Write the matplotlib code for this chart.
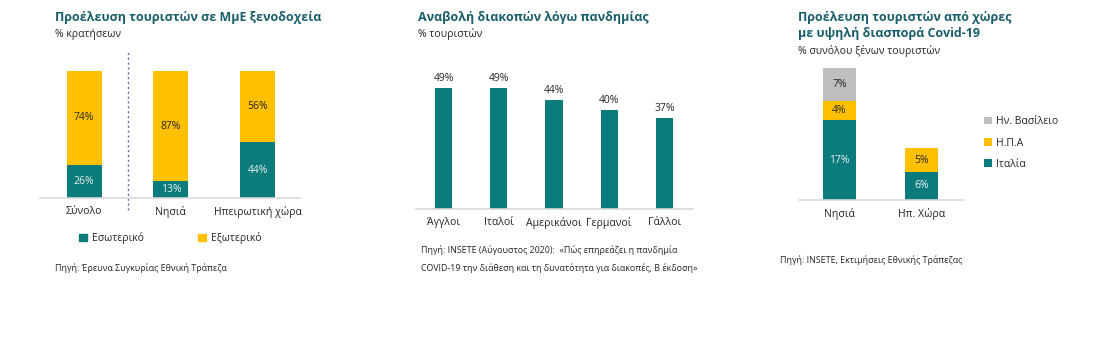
import numpy as np
import matplotlib.pyplot as plt
from matplotlib.patches import Patch

plt.rcParams['font.family'] = ['Open Sans', 'DejaVu Sans']

# Panel 1: origin of tourists in SME hotels
cat1 = ['Σύνολο', 'Νησιά', 'Ηπειρωτική χώρα']
domestic = [26, 13, 44]
foreign = [74, 87, 56]

# Panel 2: holidays postponed due to pandemic
cat2 = ['Άγγλοι', 'Ιταλοί', 'Αμερικάνοι', 'Γερμανοί', 'Γάλλοι']
postponed = [49, 49, 44, 40, 37]

# Panel 3: tourists from high Covid-19 countries
cat3 = ['Νησιά', 'Ηπ. Χώρα']
italy = [17, 6]
usa = [4, 5]
uk = [7, 0]

TEAL = '#0B7B7B'
YELLOW = '#FFC000'
GREY = '#BFBFBF'
TITLE = '#1B5E6B'
TXT = '#262626'
LINE = '#D9D9D9'

W, H = 1119, 342
fig = plt.figure(figsize=(W / 100, H / 100), dpi=100)


def px_axes(x0, x1, ytop, ybot):
    return fig.add_axes([x0 / W, 1 - ybot / H, (x1 - x0) / W, (ybot - ytop) / H])


def ftext(x, y, s, **kw):
    fig.text(x / W, 1 - y / H, s, **kw)


def style(ax):
    for s in ['top', 'left', 'right']:
        ax.spines[s].set_visible(False)
    ax.spines['bottom'].set_color(LINE)
    ax.spines['bottom'].set_linewidth(1.2)
    ax.set_yticks([])
    ax.tick_params(axis='x', length=0, pad=6, labelsize=7.6, labelcolor=TXT)


# ---- panel 1
ax1 = px_axes(40, 300, 50, 198)
x1 = np.arange(len(cat1))
ax1.bar(x1, domestic, width=0.405, color=TEAL)
ax1.bar(x1, foreign, width=0.405, bottom=domestic, color=YELLOW)
ax1.set_xlim(-0.51, 2.49)
ax1.set_ylim(0, 116.5)
style(ax1)
ax1.set_xticks(x1, cat1)
for i in range(len(cat1)):
    ax1.text(x1[i], domestic[i] / 2, f'{domestic[i]}%', ha='center', va='center',
             color='#E8F0F0', fontsize=7.5)
    ax1.text(x1[i], domestic[i] + foreign[i] / 2, f'{foreign[i]}%', ha='center',
             va='center', color=TXT, fontsize=7.5)
ax1.plot([0.5, 0.5], [-9.5, 116.5], ls=(0, (1.5, 2)), color='#7B5EA7', lw=1,
         clip_on=False)
ax1.legend(handles=[Patch(color=TEAL, label='Εσωτερικό'),
                    Patch(color=YELLOW, label='Εξωτερικό')],
           loc='center left', bbox_to_anchor=(74 / W, 1 - 238 / H),
           bbox_transform=fig.transFigure, ncol=2, frameon=False, fontsize=7.5,
           handlelength=0.75, handleheight=0.75, handletextpad=0.5,
           columnspacing=5.2, labelcolor=TXT, borderpad=0)
ftext(55, 18, 'Προέλευση τουριστών σε ΜμΕ ξενοδοχεία', fontsize=9,
      fontweight='bold', color=TITLE, va='center')
ftext(55, 34, '% κρατήσεων', fontsize=7.5, color=TXT, va='center')
ftext(55, 268, 'Πηγή: Έρευνα Συγκυρίας Εθνική Τράπεζα', fontsize=6.4,
      color=TXT, va='center')

# ---- panel 2
ax2 = px_axes(416, 693, 60, 209)
x2 = np.arange(len(cat2))
ax2.bar(x2, postponed, width=0.31, color=TEAL)
ax2.set_xlim(-0.5, 4.52)
ax2.set_ylim(0, 60.3)
style(ax2)
ax2.set_xticks(x2, cat2)
for i, v in enumerate(postponed):
    ax2.text(x2[i], v + 1.6, f'{v}%', ha='center', va='bottom', color=TXT,
             fontsize=7.5)
ftext(418, 18, 'Αναβολή διακοπών λόγω πανδημίας', fontsize=9,
      fontweight='bold', color=TITLE, va='center')
ftext(418, 34, '% τουριστών', fontsize=7.5, color=TXT, va='center')
ftext(421, 250, 'Πηγή: INSETE (Αύγουστος 2020):  «Πώς επηρεάζει η πανδημία',
      fontsize=6.4, color=TXT, va='center')
ftext(421, 268, 'COVID-19 την διάθεση και τη δυνατότητα για διακοπές, Β έκδοση»',
      fontsize=6.4, color=TXT, va='center')

# ---- panel 3
ax3 = px_axes(799, 963, 60, 200)
x3 = np.arange(len(cat3))
b_it = ax3.bar(x3, italy, width=0.4, color=TEAL, label='Ιταλία')
bot = np.array(italy)
b_us = ax3.bar(x3, usa, width=0.4, bottom=bot, color=YELLOW, label='Η.Π.Α')
bot2 = bot + np.array(usa)
b_uk = ax3.bar(x3, uk, width=0.4, bottom=bot2, color=GREY, label='Ην. Βασίλειο')
ax3.set_xlim(-0.49, 1.5)
ax3.set_ylim(0, 29.8)
style(ax3)
ax3.set_xticks(x3, cat3)
for i in range(len(cat3)):
    ax3.text(x3[i], italy[i] / 2, f'{italy[i]}%', ha='center', va='center',
             color='#E8F0F0', fontsize=7.5)
    ax3.text(x3[i], bot[i] + usa[i] / 2, f'{usa[i]}%', ha='center', va='center',
             color=TXT, fontsize=7.5)
    if uk[i] > 0:
        ax3.text(x3[i], bot2[i] + uk[i] / 2, f'{uk[i]}%', ha='center',
                 va='center', color=TXT, fontsize=7.5)
ax3.legend(handles=[b_uk, b_us, b_it], loc='center left',
           bbox_to_anchor=(979 / W, 1 - 143 / H), bbox_transform=fig.transFigure,
           frameon=False, fontsize=7.5, handlelength=0.75, handleheight=0.75,
           handletextpad=0.4, labelspacing=1.0, labelcolor=TXT, borderpad=0)
ftext(798, 18, 'Προέλευση τουριστών από χώρες', fontsize=9,
      fontweight='bold', color=TITLE, va='center')
ftext(798, 34, 'με υψηλή διασπορά Covid-19', fontsize=9,
      fontweight='bold', color=TITLE, va='center')
ftext(798, 51, '% συνόλου ξένων τουριστών', fontsize=7.5, color=TXT,
      va='center')
ftext(780, 260, 'Πηγή: INSETE, Εκτιμήσεις Εθνικής Τράπεζας', fontsize=6.4,
      color=TXT, va='center')

fig.savefig('out.png', dpi=100, facecolor='white')
